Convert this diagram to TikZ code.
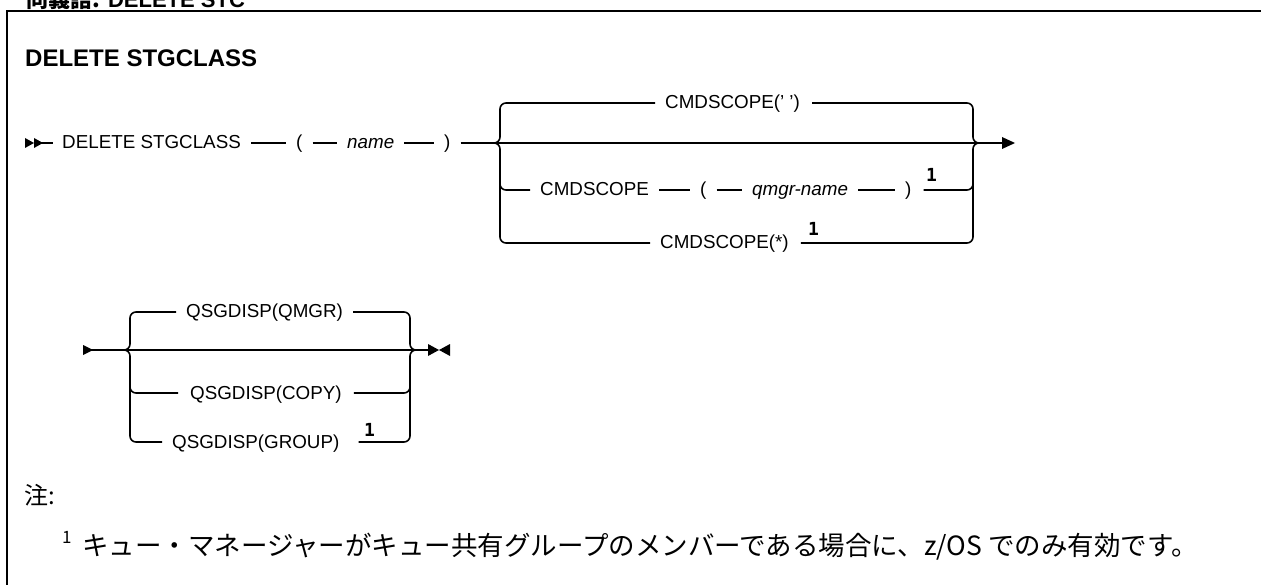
\documentclass[tikz,border=0pt]{standalone}
\usepackage{fontspec}
\setmainfont{Liberation Sans}
\newfontfamily\jpfont{Noto Sans CJK JP}
\newfontfamily\notefont{DejaVu Sans Mono}
\usetikzlibrary{positioning}

\tikzset{
  kw/.style={font=\fontsize{18.8}{22}\selectfont, inner sep=0pt, anchor=base west},
  var/.style={kw, font=\fontsize{18.8}{22}\selectfont\itshape},
  fn/.style={font=\notefont\bfseries\fontsize{18}{20}\selectfont, inner sep=0pt, anchor=base west},
  jp/.style={font=\jpfont\fontsize{#1}{#1}\selectfont, inner sep=0pt, anchor=base west},
  rail/.style={line width=1.6pt},
  gap/.style={rail, shorten <=10pt, shorten >=10pt},
  railbend/.style={rail, rounded corners=6pt},
}

\begin{document}
\begin{tikzpicture}[x=1pt, y=-1pt]

    \useasboundingbox (0,0) rectangle (1261,585);
    \clip (0,0) rectangle (1261,585);

    % header and frame
    \node[anchor=base west, inner sep=0pt, font=\bfseries\fontsize{22}{26}\selectfont] (hdr) at (26,8) {{\jpfont 同義語:} DELETE STC};
    \draw[line width=2.5pt] (7,600) -- (7,11) -- (1280,11);

    \node[anchor=base west, inner sep=0pt, font=\bfseries\fontsize{24}{28}\selectfont] (title) at (25,67) {DELETE STGCLASS};

    % first diagram: rows
    \coordinate (m) at (0,143);
    \coordinate (r1) at (0,103);
    \coordinate (r3) at (0,190);
    \coordinate (r4) at (0,243);
    \coordinate (bl) at (500,143);
    \coordinate (br) at (973,143);
    \coordinate (e) at (1003,143);

    \fill (25,138) -- (34,143) -- (25,148) -- cycle;
    \fill (34,138) -- (43,143) -- (34,148) -- cycle;
    \draw[rail] (40,143) -- (53,143);

    \node[kw] (del) at (62,149) {DELETE STGCLASS};
    \node[kw] (lp) at (296,149) {(};
    \node[var] (nm) at (347,149) {name};
    \node[kw] (rp) at (444,149) {)};
    \draw[gap] (del.east |- m) -- (lp.west |- m);
    \draw[gap] (lp.east |- m) -- (nm.west |- m);
    \draw[gap] (nm.east |- m) -- (rp.west |- m);
    \draw[rail, shorten <=10pt] (rp.east |- m) -- (e);
    \fill (1002,137) -- (1015,143) -- (1002,149) -- cycle;

    % CMDSCOPE(' ')
    \node[kw] (cs1) at (665,109) {CMDSCOPE(' ')};
    \draw[railbend] ([xshift=-10pt]cs1.west |- r1) -| (bl) -- ++(-6,0);
    \draw[railbend] ([xshift=12pt]cs1.east |- r1) -| (br) -- ++(6,0);

    % CMDSCOPE(qmgr-name)
    \node[kw] (cs2) at (540,196) {CMDSCOPE};
    \node[kw] (lp2) at (700,196) {(};
    \node[var] (qm) at (752,196) {qmgr-name};
    \node[kw] (rp2) at (905,196) {)};
    \node[fn] (n1) at (926,182) {1};
    \draw[railbend] (500,180) -- (bl |- r3) -- ([xshift=-10pt]cs2.west |- r3);
    \draw[gap] (cs2.east |- r3) -- (lp2.west |- r3);
    \draw[gap] (lp2.east |- r3) -- (qm.west |- r3);
    \draw[gap] (qm.east |- r3) -- (rp2.west |- r3);
    \draw[railbend] ([xshift=12pt]rp2.east |- r3) -- (br |- r3) -- (973,180);

    % CMDSCOPE(*)
    \node[kw] (cs3) at (660,249) {CMDSCOPE(*)};
    \node[fn] (n2) at (808,236) {1};
    \draw[railbend] ([xshift=-6pt]bl) -- (bl) |- ([xshift=-10pt]cs3.west |- r4);
    \draw[railbend] ([xshift=12pt]cs3.east |- r4) -| (br) -- ++(6,0);

    % second diagram: rows
    \coordinate (s) at (0,350);
    \coordinate (q1) at (0,312);
    \coordinate (q3) at (0,393);
    \coordinate (q4) at (0,442);
    \coordinate (sl) at (130,350);
    \coordinate (sr) at (410,350);

    \fill (83,345) -- (93,350) -- (83,355) -- cycle;
    \draw[rail] (90,350) -- (430,350);
    \fill (428,344) -- (439,350) -- (428,356) -- cycle;
    \fill (450,344) -- (439,350) -- (450,356) -- cycle;

    \node[kw] (qs1) at (186,318) {QSGDISP(QMGR)};
    \draw[railbend] ([xshift=-10pt]qs1.west |- q1) -| (sl) -- ++(-6,0);
    \draw[railbend] ([xshift=10pt]qs1.east |- q1) -| (sr) -- ++(6,0);

    \node[kw] (qs2) at (190,399) {QSGDISP(COPY)};
    \draw[railbend] (130,383) -- (sl |- q3) -- ([xshift=-12pt]qs2.west |- q3);
    \draw[railbend] ([xshift=12pt]qs2.east |- q3) -- (sr |- q3) -- (410,383);

    \node[kw] (qs3) at (172,448) {QSGDISP(GROUP)};
    \node[fn] (n3) at (364,436) {1};
    \draw[railbend] ([xshift=-6pt]sl) -- (sl) |- ([xshift=-10pt]qs3.west |- q4);
    \draw[railbend] ([xshift=19pt]qs3.east |- q4) -| (sr) -- ++(6,0);

    % notes
    \node[jp=24] (note) at (24,504) {注:};
    \node[jp=17] (n4) at (62,543) {1};
    \node[jp=26.5] (ntext) at (82,555) {キュー・マネージャーがキュー共有グループのメンバーである場合に、z/OS でのみ有効です。};

\end{tikzpicture}
\end{document}
